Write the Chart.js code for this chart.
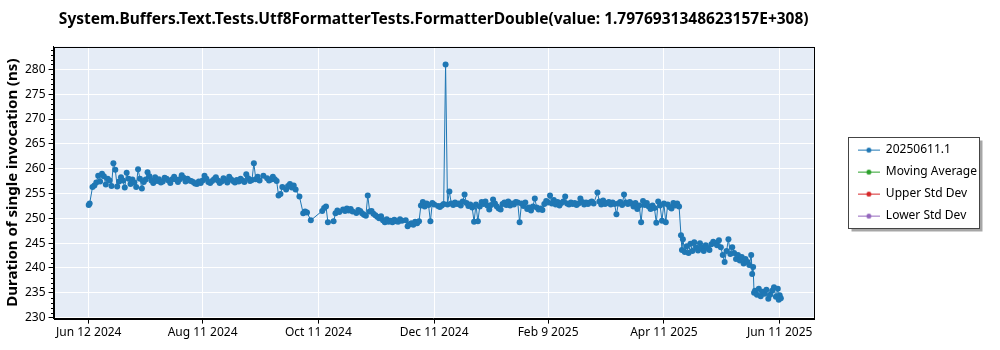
<!DOCTYPE html>
<html>
<head>
<meta charset="utf-8">
<script src="https://cdn.jsdelivr.net/npm/chart.js@4.4.1/dist/chart.umd.min.js"></script>
<style>
    html, body { margin: 0; padding: 0; background: #fff; }
</style>
</head>
<body>
<canvas id="benchChart" width="1000" height="350"></canvas>
<script>
// Data
///////////////////////////////////////////////////////////////////////////////////////
const chartTitle = 'System.Buffers.Text.Tests.Utf8FormatterTests.FormatterDouble(value: 1.7976931348623157E+308)';
const yAxisTitle = 'Duration of single invocation (ns)';

const seriesLabels = ['20250611.1', 'Moving Average', 'Upper Std Dev', 'Lower Std Dev'];
const seriesColours = ['#1f77b4', '#2ca02c', '#d62728', '#9467bd'];

// x is days since Jun 12 2024
const tickDays = [0, 60, 121, 182, 242, 303, 364];
const tickLabels = ['Jun 12 2024', 'Aug 11 2024', 'Oct 11 2024', 'Dec 11 2024', 'Feb 9 2025', 'Apr 11 2025', 'Jun 11 2025'];
const yTicks = [230, 235, 240, 245, 250, 255, 260, 265, 270, 275, 280];

const runDays = [
    0, 0.5, 2, 3, 4, 5, 6, 7, 8, 9,
    10, 11, 12, 13, 14, 15, 16, 17, 18, 19,
    20, 21, 22, 23, 24, 25, 26, 27, 28, 29,
    30, 31, 32, 33, 34, 35, 36, 37, 38, 39,
    40, 41, 42, 43, 44, 45, 46, 47, 48, 49,
    50, 51, 52, 53, 54, 55, 56, 57, 58, 59,
    60, 61, 62, 63, 64, 65, 66, 67, 68, 69,
    70, 71, 72, 73, 74, 75, 76, 77, 78, 79,
    80, 81, 82, 83, 84, 85, 86, 87, 88, 89,
    90, 92, 94, 95, 96, 97, 98, 99, 100, 101,
    102, 104, 105, 106, 107, 108, 109, 111, 113, 114,
    115, 117, 123, 124, 125, 126, 129, 130, 131, 132,
    134, 135, 136, 137, 138, 139, 141, 142, 143, 144,
    145, 146, 147, 148, 149, 150, 151, 152, 153, 154,
    155, 156, 157, 158, 159, 160, 161, 162, 163, 164,
    165, 167, 168, 169, 170, 171, 172, 173, 174, 175,
    176, 177, 178, 179, 180, 181, 182, 184, 185, 186,
    187, 188, 189, 190, 191, 192, 193, 194, 195, 196,
    197, 198, 199, 200, 201, 202, 203, 204, 205, 206,
    207, 208, 209, 210, 211, 212, 213, 214, 215, 216,
    217, 218, 219, 220, 221, 222, 223, 224, 225, 226,
    227, 228, 229, 230, 231, 232, 233, 234, 235, 236,
    237, 238, 239, 240, 241, 242, 243, 244, 245, 246,
    247, 248, 249, 250, 251, 252, 253, 254, 255, 256,
    257, 258, 259, 260, 261, 262, 263, 264, 265, 266,
    268, 269, 270, 271, 272, 273, 274, 275, 276, 277,
    278, 279, 280, 281, 282, 283, 284, 285, 286, 287,
    288, 289, 290, 291, 292, 293, 294, 295, 296, 297,
    298, 299, 300, 301, 302, 303, 304, 305, 306, 307,
    308, 309, 310, 311, 312, 312.5, 313, 314, 315, 316,
    317, 318, 319, 320, 321, 322, 323, 324, 325, 326,
    327, 328, 329, 330, 331, 332, 333, 334, 335, 336,
    337, 338, 339, 340, 341, 342, 343, 344, 345, 346,
    347, 348, 349, 349.5, 350, 350.5, 351, 352, 353, 354,
    355, 356, 357, 358, 359, 360, 361, 362, 363, 363.5,
    364, 364.6
];

const runTimes = [
    252.7, 253.0, 256.3, 256.6, 257.2, 258.6, 257.4, 259.0, 258.5, 256.8,
    258.0, 257.6, 256.5, 261.1, 259.8, 256.4, 257.4, 258.3, 257.6, 256.2,
    259.2, 258.0, 256.9, 257.8, 257.2, 256.3, 259.9, 258.0, 256.0, 257.3,
    257.8, 259.3, 258.5, 257.6, 257.1, 258.3, 257.5, 257.9, 257.2, 257.4,
    258.2, 258.0, 257.6, 257.1, 257.9, 258.4, 257.8, 257.3, 257.9, 258.7,
    258.2, 257.4, 258.0, 257.6, 257.5, 257.3, 257.0, 256.9, 257.4, 257.1,
    257.6, 258.6, 258.0, 257.3, 257.1, 257.5, 257.9, 258.3, 257.6, 257.1,
    257.4, 258.1, 257.7, 257.2, 258.4, 257.9, 257.5, 257.2, 257.7, 257.4,
    258.0, 257.6, 257.3, 258.9, 258.1, 257.5, 257.7, 261.1, 257.9, 258.4,
    257.6, 258.6, 258.1, 257.6, 257.8, 258.4, 257.9, 257.5, 254.6, 254.9,
    256.3, 255.8, 256.5, 256.9, 256.2, 256.6, 255.8, 254.4, 251.0, 251.4,
    251.2, 249.6, 251.5, 252.1, 252.4, 249.2, 249.4, 251.0, 251.6, 251.3,
    251.8, 251.5, 252.0, 251.6, 251.9, 251.4, 251.1, 251.7, 251.5, 251.0,
    250.7, 250.5, 254.6, 251.4, 251.5, 250.9, 250.6, 250.3, 250.0, 250.4,
    249.6, 249.2, 249.8, 249.3, 249.5, 249.2, 249.7, 249.4, 249.3, 249.8,
    249.5, 249.6, 248.4, 248.8, 249.0, 248.7, 249.3, 249.0, 249.4, 252.6,
    253.3, 252.4, 253.0, 252.7, 249.4, 253.1, 252.8, 252.5, 252.3, 252.6,
    252.9, 281.0, 252.8, 255.4, 253.0, 252.7, 253.2, 252.9, 253.0, 252.6,
    253.4, 254.8, 253.1, 252.5, 252.8, 252.2, 249.3, 252.8, 249.4, 252.4,
    253.3, 252.9, 253.4, 252.6, 251.8, 252.7, 253.8, 253.0, 252.4, 252.0,
    251.8, 252.9, 253.2, 252.7, 253.4, 252.6, 253.0, 252.8, 253.3, 253.2,
    249.2, 253.0, 252.5, 253.2, 251.9, 252.2, 251.6, 252.4, 254.0, 252.2,
    251.8, 252.0, 251.7, 252.9, 253.5, 253.2, 254.6, 253.0, 253.7, 252.8,
    253.3, 252.6, 253.1, 253.4, 254.4, 253.0, 252.8, 253.2, 252.9, 253.1,
    252.7, 253.0, 254.0, 253.3, 252.8, 253.2, 252.9, 253.2, 253.4, 253.0,
    255.2, 253.4, 252.8, 253.6, 252.9, 253.1, 253.3, 252.8, 253.2, 252.9,
    250.8, 253.0, 253.3, 252.7, 254.8, 253.2, 252.9, 253.3, 253.0, 252.4,
    253.1, 251.9, 252.6, 249.2, 253.5, 252.7, 253.1, 252.4, 251.9, 252.6,
    252.1, 249.1, 253.4, 252.6, 249.5, 253.0, 249.2, 252.8, 252.3, 252.0,
    253.1, 252.6, 253.0, 252.4, 246.6, 243.6, 245.8, 243.2, 244.4, 243.0,
    244.9, 243.4, 245.2, 244.1, 243.5, 245.0, 244.2, 243.4, 244.6, 244.0,
    243.6, 244.8, 245.3, 245.0, 244.6, 245.6, 244.2, 242.6, 241.2, 243.4,
    245.8, 242.8, 244.2, 243.0, 241.8, 242.6, 241.5, 242.2, 240.9, 241.8,
    241.2, 240.6, 242.6, 238.8, 240.2, 235.0, 235.4, 234.6, 235.8, 234.3,
    235.2, 234.8, 235.6, 233.8, 234.6, 235.4, 236.1, 234.2, 235.8, 233.6,
    234.5, 233.9
];

const yMin = 229.8;
const yMax = 284.6;
const xMin = -18.5;
const xMax = 382;

// Helpers
///////////////////////////////////////////////////////////////////////////////////////
const fontFamily = '"Noto Sans", "Open Sans", sans-serif';

// little "line with a dot" used as legend marker
function makeMarker(colour) {
    const c = document.createElement('canvas');
    c.width = 22;
    c.height = 8;
    const g = c.getContext('2d');
    g.strokeStyle = colour;
    g.lineWidth = 1;
    g.beginPath();
    g.moveTo(0, 4.5);
    g.lineTo(22, 4.5);
    g.stroke();
    g.fillStyle = colour;
    g.beginPath();
    g.arc(11, 4.5, 2.5, 0, Math.PI * 2);
    g.fill();
    return c;
}
const markers = seriesColours.map(makeMarker);

// plot background + frame
const plotFrame = {
    id: 'plotFrame',
    beforeDraw(chart) {
        const a = chart.chartArea, ctx = chart.ctx;
        ctx.save();
        ctx.fillStyle = '#e5ecf6';
        ctx.fillRect(a.left, a.top, a.right - a.left, a.bottom - a.top);
        ctx.restore();
    },
    afterDraw(chart) {
        const a = chart.chartArea, ctx = chart.ctx;
        ctx.save();
        ctx.strokeStyle = '#000';
        ctx.lineWidth = 1;
        ctx.strokeRect(Math.round(a.left) + 0.5, Math.round(a.top) + 0.5,
            Math.round(a.right - a.left), Math.round(a.bottom - a.top));
        ctx.restore();
    }
};

// minor ticks on the y axis, one per ns
const minorTicks = {
    id: 'minorTicks',
    afterDraw(chart) {
        const y = chart.scales.y, ctx = chart.ctx;
        const left = Math.round(chart.chartArea.left);
        ctx.save();
        ctx.strokeStyle = '#000';
        ctx.lineWidth = 1;
        ctx.beginPath();
        for (let v = Math.ceil(yMin); v <= yMax; v++) {
            if (v % 5 === 0) continue;
            const py = Math.round(y.getPixelForValue(v)) + 0.5;
            ctx.moveTo(left - 3, py);
            ctx.lineTo(left, py);
        }
        ctx.stroke();
        ctx.restore();
    }
};

// box with shadow around the legend
const legendFrame = {
    id: 'legendFrame',
    beforeDraw(chart) {
        const lg = chart.legend;
        if (!lg || !lg.legendHitBoxes.length) return;
        const boxes = lg.legendHitBoxes;
        const first = boxes[0], last = boxes[boxes.length - 1];
        const x = Math.round(first.left) - 9.5;
        const y = Math.round(first.top) - 6.5;
        const w = 131;
        const h = Math.round(last.top + last.height - first.top) + 13;
        const ctx = chart.ctx;
        ctx.save();
        ctx.fillStyle = 'rgba(0,0,0,0.35)';
        ctx.fillRect(x + 3, y + 3, w, h);
        ctx.fillStyle = '#fff';
        ctx.fillRect(x, y, w, h);
        ctx.strokeStyle = '#444';
        ctx.lineWidth = 1;
        ctx.strokeRect(x, y, w, h);
        ctx.restore();
    }
};

// Chart
///////////////////////////////////////////////////////////////////////////////////////
const datasets = seriesLabels.map((label, i) => ({
    label: label,
    data: i === 0 ? runDays.map((d, k) => ({ x: d, y: runTimes[k] })) : [],
    borderColor: seriesColours[i],
    backgroundColor: seriesColours[i],
    borderWidth: 1,
    pointRadius: 3,
    pointBorderWidth: 0,
    pointBackgroundColor: seriesColours[i],
    xAxisID: 'x',
    yAxisID: 'y',
    tension: 0
}));

const config = {
    type: 'line',
    data: { datasets: datasets },
    options: {
        responsive: false,
        animation: false,
        devicePixelRatio: 1,
        layout: { padding: { left: 4, right: 13, top: 0, bottom: 8 } },
        plugins: {
            title: {
                display: true,
                text: chartTitle,
                fullSize: false,
                color: '#000',
                font: { family: fontFamily, size: 15.5, weight: 'bold' },
                padding: { top: 10, bottom: 18 }
            },
            legend: {
                position: 'right',
                fullSize: false,
                labels: {
                    usePointStyle: true,
                    pointStyleWidth: 22,
                    padding: 10,
                    color: '#000',
                    font: { family: fontFamily, size: 12 },
                    generateLabels: chart => chart.data.datasets.map((ds, i) => ({
                        text: ds.label,
                        pointStyle: markers[i],
                        fillStyle: ds.borderColor,
                        strokeStyle: ds.borderColor,
                        lineWidth: 0,
                        hidden: false,
                        datasetIndex: i,
                        fontColor: '#000'
                    }))
                }
            },
            tooltip: { enabled: false }
        },
        scales: {
            x: {
                type: 'linear',
                min: xMin,
                max: xMax,
                afterBuildTicks: s => { s.ticks = tickDays.map(v => ({ value: v })); },
                ticks: {
                    color: '#000',
                    maxRotation: 0,
                    autoSkip: false,
                    padding: 2,
                    font: { family: fontFamily, size: 12 },
                    callback: (v) => tickLabels[tickDays.indexOf(v)]
                },
                grid: { color: '#fff', lineWidth: 1, tickColor: '#000', tickLength: 5 },
                border: { display: true, color: '#000' }
            },
            y: {
                type: 'linear',
                min: yMin,
                max: yMax,
                afterBuildTicks: s => { s.ticks = yTicks.map(v => ({ value: v })); },
                ticks: {
                    color: '#000',
                    padding: 3,
                    font: { family: fontFamily, size: 12 }
                },
                grid: { color: '#fff', lineWidth: 1, tickColor: '#000', tickLength: 5 },
                border: { display: true, color: '#000' },
                title: {
                    display: true,
                    text: yAxisTitle,
                    color: '#000',
                    font: { family: fontFamily, size: 15, weight: 'bold' },
                    padding: { top: 0, bottom: 0 }
                }
            },
            // empty axis that only keeps a gap between the plot and the legend
            gap: {
                type: 'linear',
                position: 'right',
                display: true,
                grid: { display: false },
                border: { display: false },
                ticks: { display: false },
                afterFit: s => { s.width = 34; }
            }
        }
    },
    plugins: [plotFrame, minorTicks, legendFrame]
};

const benchChart = new Chart(document.getElementById('benchChart'), config);
</script>
</body>
</html>
